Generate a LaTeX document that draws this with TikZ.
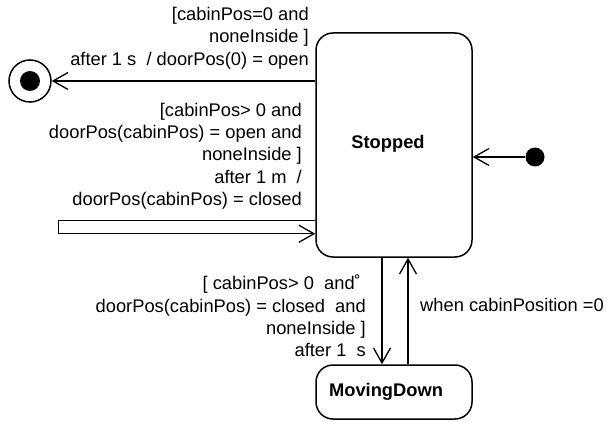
\documentclass[tikz,border=0pt]{standalone}
\usepackage{fontspec}
\setmainfont{Liberation Sans}
\usetikzlibrary{arrows.meta}
\begin{document}
\begin{tikzpicture}[x=1pt,y=-1pt,
  lbl/.style={font=\fontsize{18.3}{22.3}\selectfont, inner sep=0pt},
  title/.style={font=\fontsize{18.3}{22}\selectfont\bfseries, inner sep=0pt},
  statebox/.style={draw, line width=1.5pt, rounded corners=17pt, inner sep=0pt},
  conn/.style={line width=1.3pt, -{Straight Barb[length=15pt,width=17pt]}},
  pseudo/.style={circle, fill, inner sep=0pt},
]
\useasboundingbox (0,0) rectangle (607,422);

% states
\node[statebox, minimum width=156pt, minimum height=224pt] (stopped) at (394,145) {};
\node[title] (stoppedname) at (388,144) {Stopped};
\node[statebox, minimum width=156pt, minimum height=54pt] (moving) at (394,392) {};
\node[title] (movingname) at (386,392) {MovingDown};

% pseudo states
\node[pseudo, minimum size=19pt] (init) at (535,157) {};
\node[circle, draw, line width=1.5pt, minimum size=42pt, inner sep=0pt] (final) at (30,81) {};
\node[pseudo, minimum size=20pt] (finaldot) at (final.center) {};

% transitions
\draw[conn] (init) -- (init -| stopped.east);
\draw[conn] (final -| stopped.west) -- (final);
\draw[conn] ([yshift=37pt]stopped.south west) -- ++(-257,0) -- ++(0,13)
  -- ([yshift=24pt]stopped.south west);
\draw[conn] ([xshift=-12pt]stopped.south) -- ([xshift=-12pt]moving.north);
\draw[conn] ([xshift=14pt]moving.north) -- ([xshift=14pt]stopped.south);

% transition labels
\node[lbl, align=right, anchor=east] (lblfinal) at (309,38)
  {[cabinPos=0 and\\noneInside ]\\after 1 s\ \ / doorPos(0) = open};
\node[lbl, align=right, anchor=east] (lblloop) at (302,156)
  {[cabinPos> 0 and\\doorPos(cabinPos) = open and\\noneInside ]\\after 1 m\ \ /\\doorPos(cabinPos) = closed};
\node[lbl, align=right, anchor=east] (lbldown) at (366,316)
  {[ cabinPos> 0\ \ and˚\hspace*{5pt}\\doorPos(cabinPos) = closed\ \ and\hspace*{5pt}\\noneInside ]\hspace*{5pt}\\after 1\ \ s};
\node[lbl, anchor=west] (lblup) at (420,305) {when cabinPosition =0};
\end{tikzpicture}
\end{document}
